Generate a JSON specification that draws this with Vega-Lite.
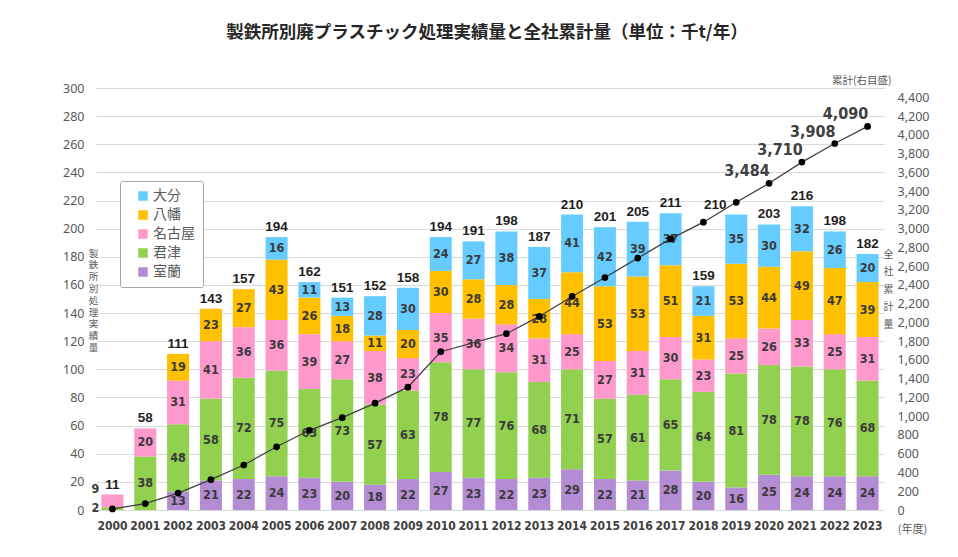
{
  "$schema": "https://vega.github.io/schema/vega-lite/v6.json",
  "autosize": {"type": "none"},
  "width": 788,
  "height": 422,
  "padding": {"left": 96, "top": 88, "right": 74, "bottom": 47},
  "background": "white",
  "title": {
    "text": "製鉄所別廃プラスチック処理実績量と全社累計量（単位：千t/年）",
    "font": "Noto Sans CJK JP",
    "fontSize": 17.5,
    "fontWeight": "bold",
    "color": "#262626",
    "anchor": "middle",
    "offset": 35,
    "dx": -3
  },
  "datasets": {
    "seg": [
      {"year": 2000, "site": "君津", "value": 2}, {"year": 2000, "site": "名古屋", "value": 9},
      {"year": 2001, "site": "君津", "value": 38}, {"year": 2001, "site": "名古屋", "value": 20},
      {"year": 2002, "site": "室蘭", "value": 13}, {"year": 2002, "site": "君津", "value": 48}, {"year": 2002, "site": "名古屋", "value": 31}, {"year": 2002, "site": "八幡", "value": 19},
      {"year": 2003, "site": "室蘭", "value": 21}, {"year": 2003, "site": "君津", "value": 58}, {"year": 2003, "site": "名古屋", "value": 41}, {"year": 2003, "site": "八幡", "value": 23},
      {"year": 2004, "site": "室蘭", "value": 22}, {"year": 2004, "site": "君津", "value": 72}, {"year": 2004, "site": "名古屋", "value": 36}, {"year": 2004, "site": "八幡", "value": 27},
      {"year": 2005, "site": "室蘭", "value": 24}, {"year": 2005, "site": "君津", "value": 75}, {"year": 2005, "site": "名古屋", "value": 36}, {"year": 2005, "site": "八幡", "value": 43}, {"year": 2005, "site": "大分", "value": 16},
      {"year": 2006, "site": "室蘭", "value": 23}, {"year": 2006, "site": "君津", "value": 63}, {"year": 2006, "site": "名古屋", "value": 39}, {"year": 2006, "site": "八幡", "value": 26}, {"year": 2006, "site": "大分", "value": 11},
      {"year": 2007, "site": "室蘭", "value": 20}, {"year": 2007, "site": "君津", "value": 73}, {"year": 2007, "site": "名古屋", "value": 27}, {"year": 2007, "site": "八幡", "value": 18}, {"year": 2007, "site": "大分", "value": 13},
      {"year": 2008, "site": "室蘭", "value": 18}, {"year": 2008, "site": "君津", "value": 57}, {"year": 2008, "site": "名古屋", "value": 38}, {"year": 2008, "site": "八幡", "value": 11}, {"year": 2008, "site": "大分", "value": 28},
      {"year": 2009, "site": "室蘭", "value": 22}, {"year": 2009, "site": "君津", "value": 63}, {"year": 2009, "site": "名古屋", "value": 23}, {"year": 2009, "site": "八幡", "value": 20}, {"year": 2009, "site": "大分", "value": 30},
      {"year": 2010, "site": "室蘭", "value": 27}, {"year": 2010, "site": "君津", "value": 78}, {"year": 2010, "site": "名古屋", "value": 35}, {"year": 2010, "site": "八幡", "value": 30}, {"year": 2010, "site": "大分", "value": 24},
      {"year": 2011, "site": "室蘭", "value": 23}, {"year": 2011, "site": "君津", "value": 77}, {"year": 2011, "site": "名古屋", "value": 36}, {"year": 2011, "site": "八幡", "value": 28}, {"year": 2011, "site": "大分", "value": 27},
      {"year": 2012, "site": "室蘭", "value": 22}, {"year": 2012, "site": "君津", "value": 76}, {"year": 2012, "site": "名古屋", "value": 34}, {"year": 2012, "site": "八幡", "value": 28}, {"year": 2012, "site": "大分", "value": 38},
      {"year": 2013, "site": "室蘭", "value": 23}, {"year": 2013, "site": "君津", "value": 68}, {"year": 2013, "site": "名古屋", "value": 31}, {"year": 2013, "site": "八幡", "value": 28}, {"year": 2013, "site": "大分", "value": 37},
      {"year": 2014, "site": "室蘭", "value": 29}, {"year": 2014, "site": "君津", "value": 71}, {"year": 2014, "site": "名古屋", "value": 25}, {"year": 2014, "site": "八幡", "value": 44}, {"year": 2014, "site": "大分", "value": 41},
      {"year": 2015, "site": "室蘭", "value": 22}, {"year": 2015, "site": "君津", "value": 57}, {"year": 2015, "site": "名古屋", "value": 27}, {"year": 2015, "site": "八幡", "value": 53}, {"year": 2015, "site": "大分", "value": 42},
      {"year": 2016, "site": "室蘭", "value": 21}, {"year": 2016, "site": "君津", "value": 61}, {"year": 2016, "site": "名古屋", "value": 31}, {"year": 2016, "site": "八幡", "value": 53}, {"year": 2016, "site": "大分", "value": 39},
      {"year": 2017, "site": "室蘭", "value": 28}, {"year": 2017, "site": "君津", "value": 65}, {"year": 2017, "site": "名古屋", "value": 30}, {"year": 2017, "site": "八幡", "value": 51}, {"year": 2017, "site": "大分", "value": 37},
      {"year": 2018, "site": "室蘭", "value": 20}, {"year": 2018, "site": "君津", "value": 64}, {"year": 2018, "site": "名古屋", "value": 23}, {"year": 2018, "site": "八幡", "value": 31}, {"year": 2018, "site": "大分", "value": 21},
      {"year": 2019, "site": "室蘭", "value": 16}, {"year": 2019, "site": "君津", "value": 81}, {"year": 2019, "site": "名古屋", "value": 25}, {"year": 2019, "site": "八幡", "value": 53}, {"year": 2019, "site": "大分", "value": 35},
      {"year": 2020, "site": "室蘭", "value": 25}, {"year": 2020, "site": "君津", "value": 78}, {"year": 2020, "site": "名古屋", "value": 26}, {"year": 2020, "site": "八幡", "value": 44}, {"year": 2020, "site": "大分", "value": 30},
      {"year": 2021, "site": "室蘭", "value": 24}, {"year": 2021, "site": "君津", "value": 78}, {"year": 2021, "site": "名古屋", "value": 33}, {"year": 2021, "site": "八幡", "value": 49}, {"year": 2021, "site": "大分", "value": 32},
      {"year": 2022, "site": "室蘭", "value": 24}, {"year": 2022, "site": "君津", "value": 76}, {"year": 2022, "site": "名古屋", "value": 25}, {"year": 2022, "site": "八幡", "value": 47}, {"year": 2022, "site": "大分", "value": 26},
      {"year": 2023, "site": "室蘭", "value": 24}, {"year": 2023, "site": "君津", "value": 68}, {"year": 2023, "site": "名古屋", "value": 31}, {"year": 2023, "site": "八幡", "value": 39}, {"year": 2023, "site": "大分", "value": 20}
    ],
    "cum": [
      {"year": 2000, "cum": 11}, {"year": 2001, "cum": 69}, {"year": 2002, "cum": 180}, {"year": 2003, "cum": 323},
      {"year": 2004, "cum": 480}, {"year": 2005, "cum": 674}, {"year": 2006, "cum": 850}, {"year": 2007, "cum": 985},
      {"year": 2008, "cum": 1139}, {"year": 2009, "cum": 1310}, {"year": 2010, "cum": 1688}, {"year": 2012, "cum": 1880},
      {"year": 2013, "cum": 2064}, {"year": 2014, "cum": 2277}, {"year": 2015, "cum": 2479}, {"year": 2016, "cum": 2686},
      {"year": 2017, "cum": 2891}, {"year": 2018, "cum": 3069}, {"year": 2019, "cum": 3281}, {"year": 2020, "cum": 3484},
      {"year": 2021, "cum": 3710}, {"year": 2022, "cum": 3908}, {"year": 2023, "cum": 4090}
    ],
    "note": [{"t": "累計(右目盛)"}]
  },
  "layer": [
    {
      "data": {"name": "seg"},
      "transform": [
        {"calculate": "indexof(['室蘭','君津','名古屋','八幡','大分'], datum.site)", "as": "ord"},
        {"stack": "value", "groupby": ["year"], "sort": [{"field": "ord", "order": "ascending"}], "as": ["v0", "v1"]},
        {"calculate": "(datum.v0 + datum.v1) / 2", "as": "mid"}
      ],
      "layer": [
        {
          "mark": {"type": "bar"},
          "encoding": {
            "x": {
              "field": "year", "type": "ordinal",
              "scale": {"paddingInner": 0.33, "paddingOuter": 0.165},
              "axis": {
                "title": "(年度)", "titleX": 816, "titleY": 19.5, "titleAlign": "center", "titleBaseline": "middle",
                "titleFont": "Noto Sans CJK JP", "titleFontSize": 11, "titleFontWeight": "normal", "titleColor": "#595959",
                "labelAngle": 0, "labelFont": "DejaVu Sans Condensed", "labelFontWeight": "bold", "labelFontSize": 12,
                "labelColor": "#404040", "labelPadding": 10, "grid": false, "ticks": false, "domain": false
              }
            },
            "y": {
              "field": "v0", "type": "quantitative",
              "scale": {"domain": [0, 300], "nice": false},
              "axis": {
                "values": [0, 20, 40, 60, 80, 100, 120, 140, 160, 180, 200, 220, 240, 260, 280, 300],
                "tickCount": 40, "format": "d", "labelOverlap": false,
                "title": ["製", "鉄", "所", "別", "処", "理", "実", "績", "量"],
                "titleAngle": 0, "titleX": -3, "titleY": 160, "titleAlign": "center", "titleBaseline": "top",
                "titleLineHeight": 11.8, "titleFont": "Noto Sans CJK JP", "titleFontSize": 9.5, "titleFontWeight": "normal", "titleColor": "#595959",
                "labelFont": "Noto Sans", "labelFontSize": 12.5, "labelColor": "#595959", "labelPadding": 12,
                "grid": true, "gridColor": "#D9D9D9", "gridWidth": 1, "ticks": false, "domain": false
              }
            },
            "y2": {"field": "v1"},
            "color": {
              "field": "site", "type": "nominal",
              "scale": {
                "domain": ["大分", "八幡", "名古屋", "君津", "室蘭"],
                "range": ["#66CCFF", "#FFC000", "#FF99CC", "#92D050", "#B48CD4"]
              },
              "legend": {
                "title": null, "orient": "none", "legendX": 24, "legendY": 93,
                "fillColor": "white", "strokeColor": "#A6A6A6", "padding": 8, "cornerRadius": 2,
                "symbolType": "square", "symbolSize": 90, "symbolStrokeWidth": 0, "symbolOffset": 8,
                "labelFont": "Noto Sans CJK JP", "labelFontSize": 14, "labelColor": "#595959", "labelOffset": 3,
                "rowPadding": 5
              }
            }
          }
        },
        {
          "transform": [{"filter": "datum.year != 2000"}],
          "mark": {"type": "text", "font": "DejaVu Sans Condensed", "fontWeight": "bold", "fontSize": 12.5, "color": "#3A3A3A", "baseline": "middle"},
          "encoding": {
            "x": {"field": "year", "type": "ordinal"},
            "y": {"field": "mid", "type": "quantitative"},
            "text": {"field": "value", "type": "quantitative"}
          }
        },
        {
          "transform": [{"filter": "datum.year == 2000 && datum.site == '名古屋'"}],
          "mark": {"type": "text", "font": "DejaVu Sans Condensed", "fontWeight": "bold", "fontSize": 12.5, "color": "#3A3A3A", "baseline": "bottom", "dx": -17, "dy": 1},
          "encoding": {
            "x": {"field": "year", "type": "ordinal"},
            "y": {"field": "v1", "type": "quantitative"},
            "text": {"field": "value", "type": "quantitative"}
          }
        },
        {
          "transform": [{"filter": "datum.year == 2000 && datum.site == '君津'"}],
          "mark": {"type": "text", "font": "DejaVu Sans Condensed", "fontWeight": "bold", "fontSize": 12.5, "color": "#3A3A3A", "baseline": "middle", "dx": -17, "dy": -1},
          "encoding": {
            "x": {"field": "year", "type": "ordinal"},
            "y": {"field": "mid", "type": "quantitative"},
            "text": {"field": "value", "type": "quantitative"}
          }
        },
        {
          "transform": [
            {"aggregate": [{"op": "sum", "field": "value", "as": "total"}], "groupby": ["year"]},
            {"filter": "datum.year != 2019"}
          ],
          "mark": {"type": "text", "font": "Liberation Sans", "fontWeight": "bold", "fontSize": 13.5, "color": "#1F1F1F", "baseline": "bottom", "dy": -3},
          "encoding": {
            "x": {"field": "year", "type": "ordinal"},
            "y": {"field": "total", "type": "quantitative"},
            "text": {"field": "total", "type": "quantitative"}
          }
        },
        {
          "transform": [
            {"aggregate": [{"op": "sum", "field": "value", "as": "total"}], "groupby": ["year"]},
            {"filter": "datum.year == 2019"}
          ],
          "mark": {"type": "text", "font": "Liberation Sans", "fontWeight": "bold", "fontSize": 13.5, "color": "#1F1F1F", "baseline": "bottom", "dx": -21, "dy": -3},
          "encoding": {
            "x": {"field": "year", "type": "ordinal"},
            "y": {"field": "total", "type": "quantitative"},
            "text": {"field": "total", "type": "quantitative"}
          }
        }
      ]
    },
    {
      "layer": [
        {
          "data": {"name": "cum"},
          "mark": {"type": "line", "color": "#404040", "strokeWidth": 1.3},
          "encoding": {
            "x": {"field": "year", "type": "ordinal"},
            "y": {
              "field": "cum", "type": "quantitative",
              "scale": {"domain": [0, 4500], "nice": false},
              "axis": {
                "orient": "right",
                "values": [0, 200, 400, 600, 800, 1000, 1200, 1400, 1600, 1800, 2000, 2200, 2400, 2600, 2800, 3000, 3200, 3400, 3600, 3800, 4000, 4200, 4400],
                "tickCount": 40, "format": ",d", "labelOverlap": false,
                "title": ["全", "社", "累", "計", "量"],
                "titleAngle": 0, "titleX": 4, "titleY": 161, "titleAlign": "center", "titleBaseline": "top",
                "titleLineHeight": 17.5, "titleFont": "Noto Sans CJK JP", "titleFontSize": 10, "titleFontWeight": "normal", "titleColor": "#595959",
                "labelFont": "Noto Sans", "labelFontSize": 12.5, "labelColor": "#595959", "labelPadding": 13, "labelAlign": "left",
                "grid": false, "ticks": false, "domain": false
              }
            }
          }
        },
        {
          "data": {"name": "cum"},
          "mark": {"type": "point", "filled": true, "color": "#000000", "size": 45, "opacity": 1},
          "encoding": {
            "x": {"field": "year", "type": "ordinal"},
            "y": {"field": "cum", "type": "quantitative"}
          }
        },
        {
          "data": {"name": "cum"},
          "transform": [{"filter": "datum.year >= 2020"}],
          "mark": {"type": "text", "font": "DejaVu Sans Condensed", "fontWeight": "bold", "fontSize": 16, "color": "#404040", "baseline": "middle", "dx": -22, "dy": -12},
          "encoding": {
            "x": {"field": "year", "type": "ordinal"},
            "y": {"field": "cum", "type": "quantitative"},
            "text": {"field": "cum", "type": "quantitative", "format": ","}
          }
        },
        {
          "data": {"name": "note"},
          "mark": {"type": "text", "font": "Noto Sans CJK JP", "fontSize": 10.5, "color": "#595959", "align": "right", "baseline": "middle", "dx": 24, "dy": -7},
          "encoding": {
            "x": {"datum": 2023, "type": "ordinal"},
            "y": {"datum": 4500, "type": "quantitative"},
            "text": {"field": "t", "type": "nominal"}
          }
        }
      ]
    }
  ],
  "resolve": {"scale": {"y": "independent"}},
  "config": {
    "view": {"stroke": null},
    "axis": {"ticks": false, "domain": false}
  }
}
